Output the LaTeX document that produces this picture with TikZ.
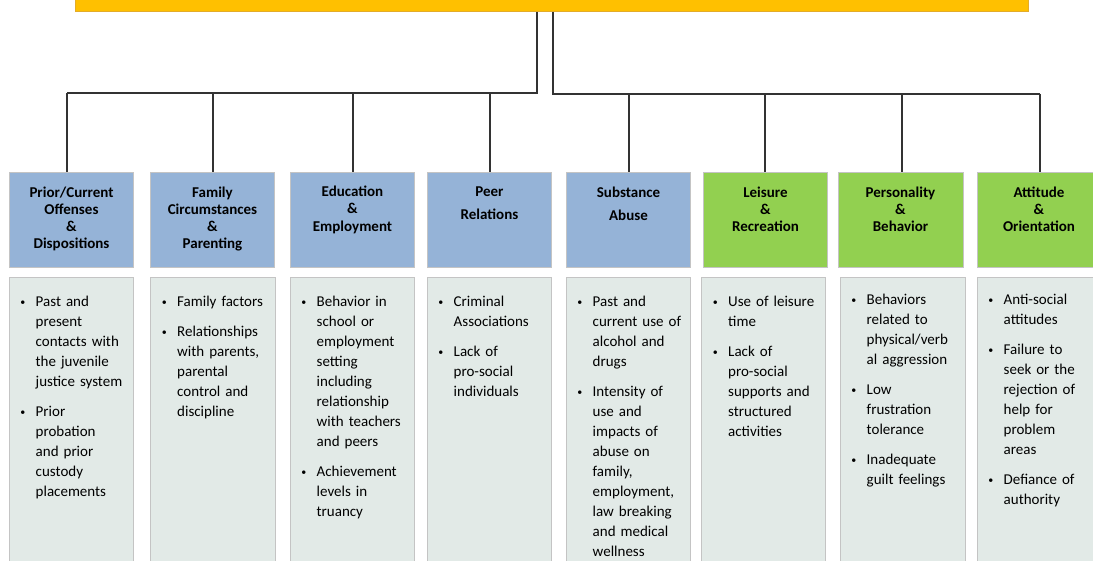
\documentclass[tikz,border=0pt]{standalone}
\usepackage{fontspec}
\setmainfont{Carlito}
\definecolor{ybar}{HTML}{FFC000}
\definecolor{ybord}{HTML}{E3AC2A}
\definecolor{hblue}{HTML}{95B3D7}
\definecolor{hgreen}{HTML}{92D050}
\definecolor{bodyfill}{HTML}{E2EAE7}
\definecolor{boxline}{HTML}{C4C4C4}
\newcommand{\bp}{\noindent\llap{\makebox[16.5pt][l]{\hspace{1.2pt}\raisebox{1.3pt}{\fontsize{10}{10}\selectfont\textbullet}}}}
\newcommand{\nx}{\par\vspace{10pt}}
\begin{document}
\begin{tikzpicture}[x=1pt,y=-1pt,
  hbox/.style={draw=boxline, line width=0.8pt, minimum width=124.5pt, minimum height=95pt, anchor=north west, inner sep=0, outer sep=0},
  bbox/.style={draw=boxline, line width=0.8pt, fill=bodyfill, minimum width=124.5pt, minimum height=330pt, anchor=north west, inner sep=0, outer sep=0},
  htext/.style={font=\bfseries\fontsize{15}{17}\selectfont, text width=122pt, align=center, anchor=base, inner sep=0},
  btext/.style={font=\fontsize{15}{20}\selectfont, text width=100pt, align=left, anchor=base west, inner sep=0},
  conn/.style={draw=black!80, line width=1.2pt}]
\useasboundingbox (0,0) rectangle (1093,561);
\clip (0,0) rectangle (1093,561);
\fill[white] (0,0) rectangle (1093,561);
% top bar
\node[draw=ybord, fill=ybar, line width=0.8pt, minimum width=953pt, minimum height=22pt, anchor=south west, inner sep=0] (top) at (75,12) {};
% header boxes
\node[hbox, fill=hblue]  (h1) at (9,172) {};
\node[hbox, fill=hblue]  (h2) at (150,172) {};
\node[hbox, fill=hblue]  (h3) at (290,172) {};
\node[hbox, fill=hblue]  (h4) at (427,172) {};
\node[hbox, fill=hblue]  (h5) at (566,172) {};
\node[hbox, fill=hgreen] (h6) at (703,172) {};
\node[hbox, fill=hgreen] (h7) at (838.5,172) {};
\node[hbox, fill=hgreen] (h8) at (977,172) {};
% header texts
\node[htext] (ht1) at (71.5,198) {Prior/Current\\Offenses\\\&\\Dispositions};
\node[htext] (ht2) at (212.5,198) {Family\\Circumstances\\\&\\Parenting};
\node[htext] (ht3) at (352.5,196.5) {Education\\[0.5pt]\&\\[0.5pt]Employment};
\node[htext] (ht4) at (489.5,196.5) {Peer\\[6.3pt]Relations};
\node[htext] (ht5) at (628.5,198) {Substance\\[5.7pt]Abuse};
\node[htext] (ht6) at (765.5,198) {Leisure\\\&\\Recreation};
\node[htext] (ht7) at (900.5,198) {Personality\\\&\\Behavior};
\node[htext] (ht8) at (1039,198) {Attitude\\\&\\Orientation};
% body boxes
\node[bbox] (b1) at (9,277) {};
\node[bbox] (b2) at (150.5,277) {};
\node[bbox] (b3) at (290,277) {};
\node[bbox] (b4) at (427,277) {};
\node[bbox] (b5) at (566,277) {};
\node[bbox] (b6) at (701,277) {};
\node[bbox] (b7) at (840.5,277) {};
\node[bbox] (b8) at (977,277) {};
% body texts
\node[btext] (t1) at (35.5,307) {\bp Past and\\present\\contacts with\\the juvenile\\justice system\nx
\bp Prior\\probation\\and prior\\custody\\placements};
\node[btext] (t2) at (177,307) {\bp Family factors\nx
\bp Relationships\\with parents,\\parental\\control and\\discipline};
\node[btext] (t3) at (316.5,307) {\bp Behavior in\\school or\\employment\\setting\\including\\relationship\\with teachers\\and peers\nx
\bp Achievement\\levels in\\truancy};
\node[btext] (t4) at (453.5,307) {\bp Criminal\\Associations\nx
\bp Lack of\\pro-social\\individuals};
\node[btext] (t5) at (592.5,307) {\bp Past and\\current use of\\alcohol and\\drugs\nx
\bp Intensity of\\use and\\impacts of\\abuse on\\family,\\employment,\\law breaking\\and medical\\wellness};
\node[btext] (t6) at (728,307) {\bp Use of leisure\\time\nx
\bp Lack of\\pro-social\\supports and\\structured\\activities};
\node[btext] (t7) at (866.5,305) {\bp Behaviors\\related to\\physical/verb\\al aggression\nx
\bp Low\\frustration\\tolerance\nx
\bp Inadequate\\guilt feelings};
\node[btext] (t8) at (1003.5,305) {\bp Anti-social\\attitudes\nx
\bp Failure to\\seek or the\\rejection of\\help for\\problem\\areas\nx
\bp Defiance of\\authority};
% connectors
\coordinate (jl) at (537,93);
\coordinate (jr) at (553,94);
\coordinate (d1) at (67,93);
\coordinate (d2) at (213,93);
\coordinate (d3) at (353,93);
\coordinate (d4) at (490,93);
\coordinate (d5) at (629,94);
\coordinate (d6) at (765,94);
\coordinate (d7) at (902,94);
\coordinate (d8) at (1040,94);
\draw[conn] (jl |- top.south) -- (jl) -- (d1);
\draw[conn] (jr |- top.south) -- (jr) -- (d8);
\foreach \i in {1,...,8} {
  \draw[conn] (d\i) -- (d\i |- h\i.north);
}
\end{tikzpicture}
\end{document}
